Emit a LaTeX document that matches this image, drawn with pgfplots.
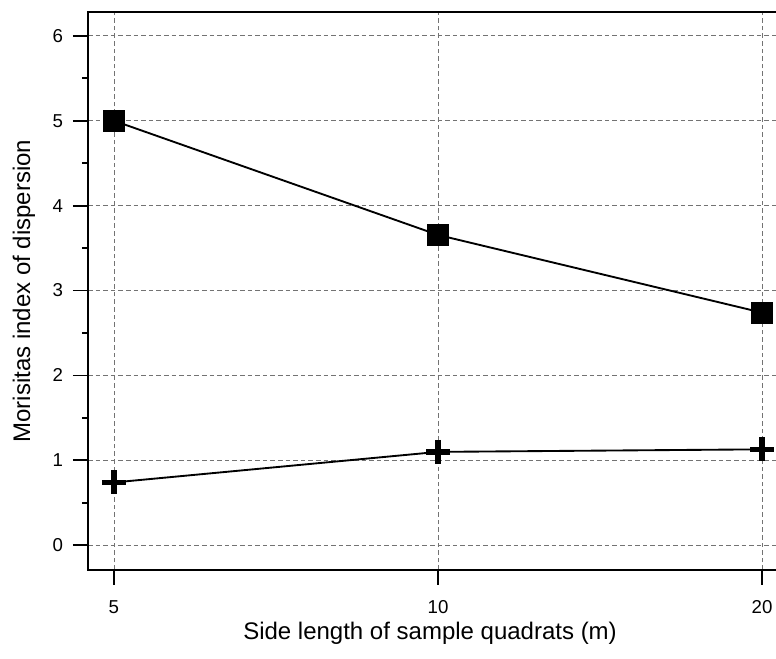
\documentclass[border=0pt]{standalone}
\usepackage{fontspec}
\setmainfont{Liberation Sans}
\usepackage{pgfplots}
\pgfplotsset{compat=1.18}
\begin{document}
\begin{tikzpicture}
\useasboundingbox (0,0) rectangle (582pt,494.25pt);
\begin{axis}[
  at={(66pt,66.75pt)}, anchor=south west,
  scale only axis, width=517.5pt, height=418.5pt,
  xmin=-0.080, xmax=2.049, ymin=-0.291, ymax=6.281,
  xtick={0,1,2}, xticklabels={5,10,20},
  ytick={0,1,2,3,4,5,6}, minor y tick num=1,
  tick pos=left, tick align=outside,
  major tick length=11.25pt, minor tick length=4.5pt,
  every tick/.style={black, line width=1.4pt},
  axis line style={line width=2.2pt},
  grid=major,
  major grid style={black!55, line width=0.6pt, dash pattern=on 3.5pt off 2.2pt},
  /pgf/number format/assume math mode=true,
  tick label style={font=\fontsize{14}{16}\selectfont},
  yticklabel style={xshift=-4pt},
  xticklabel style={yshift=-8pt},
  label style={font=\fontsize{18}{21}\selectfont},
  xlabel={Side length of sample quadrats (m)},
  ylabel={Morisitas index of dispersion},
  xlabel style={at={(axis description cs:0.4957,-0.1254)}, anchor=base},
  ylabel style={at={(axis description cs:-0.084,0.5)}, anchor=base},
  clip=false,
]
\addplot[black, line width=1.4pt, mark=square*, mark size=7.8pt, mark options={fill=black, line width=0.5pt}]
  coordinates {(0,5.0) (1,3.655) (2,2.74)};
\addplot[black, line width=1.4pt, mark=+, mark size=9pt, mark options={line width=4.2pt}]
  coordinates {(0,0.74) (1,1.10) (2,1.13)};
\end{axis}
\end{tikzpicture}
\end{document}
